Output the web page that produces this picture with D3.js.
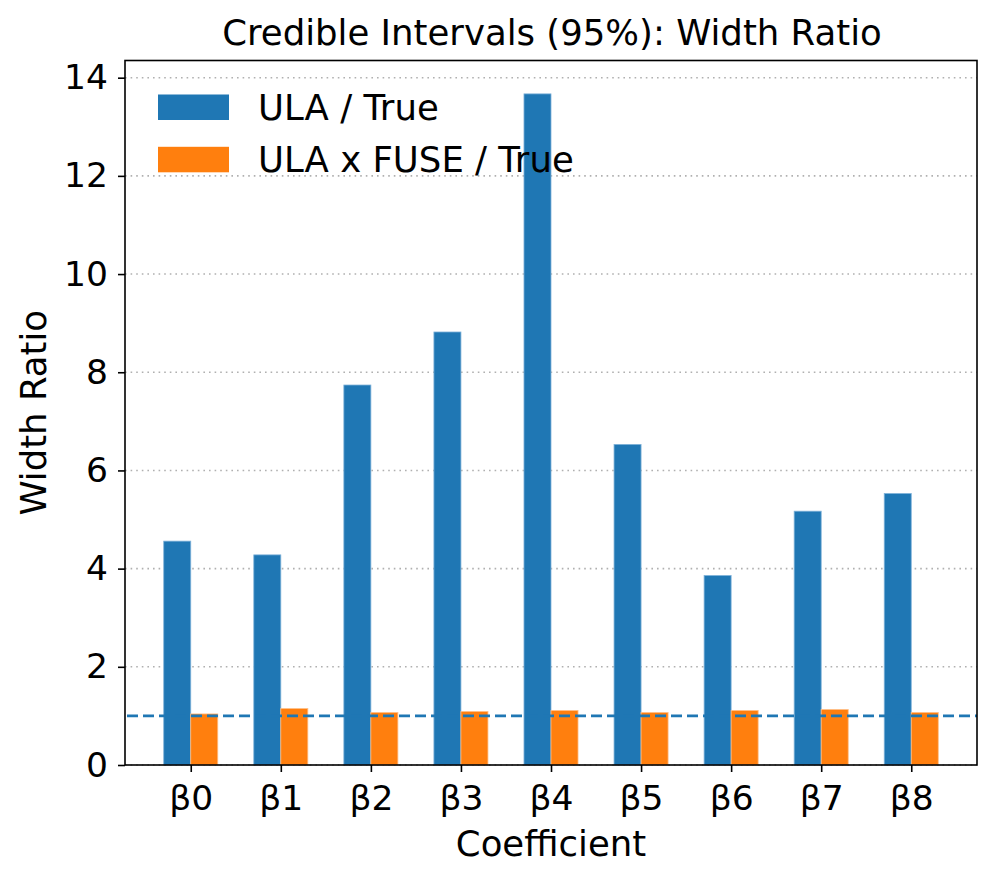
<!DOCTYPE html>
<html><head><meta charset="utf-8">
<script src="https://cdn.jsdelivr.net/npm/d3@7"></script>
<style>body{margin:0;background:#fff}svg{font-family:"DejaVu Sans",sans-serif}</style>
</head><body><svg id="c" width="995" height="881"></svg>
<script>
const categories = ["β0","β1","β2","β3","β4","β5","β6","β7","β8"];
const ulaTrue = [4.56,4.28,7.74,8.82,13.67,6.53,3.86,5.17,5.53];
const fuseTrue = [1.04,1.15,1.07,1.09,1.11,1.07,1.11,1.13,1.07];
const yTicks = [0,2,4,6,8,10,12,14];
const seriesNames = ["ULA / True","ULA x FUSE / True"];
const colors = ["#1f77b4","#ff7f0e"];

const svg = d3.select("#c");
const L=125,R=977,T=60.5,B=765;
const x = d3.scaleLinear().domain([-0.73,8.73]).range([L,R]);
const y = d3.scaleLinear().domain([0,14.35]).range([B,T]);
const w = 0.3;

// grid
svg.append("g").selectAll("line").data(yTicks).join("line")
  .attr("x1",L).attr("x2",R).attr("y1",d=>y(d)).attr("y2",d=>y(d))
  .attr("stroke","#b0b0b0").attr("stroke-width",1.6).attr("stroke-dasharray","1.6,4");

const series=[ulaTrue,fuseTrue];
series.forEach((s,si)=>{
  svg.append("g").selectAll("rect").data(s).join("rect")
    .attr("x",(d,i)=>x(i+(si===0?-w:0)))
    .attr("width",x(w)-x(0))
    .attr("y",d=>y(d)).attr("height",d=>y(0)-y(d))
    .attr("fill",colors[si]).attr("stroke",si===0?"#7fb2d9":"#ffbf87").attr("stroke-width",0.8);
});

// reference line
svg.append("line").attr("x1",L+2).attr("x2",R).attr("y1",y(1)).attr("y2",y(1))
  .attr("stroke","#1f77b4").attr("stroke-width",2.7).attr("stroke-dasharray","11,5");

// axes
const ya = svg.append("g").attr("transform",`translate(${L},0)`)
  .call(d3.axisLeft(y).tickValues(yTicks).tickSize(7).tickPadding(10));
const xa = svg.append("g").attr("transform",`translate(0,${B})`)
  .call(d3.axisBottom(x).tickValues(d3.range(categories.length)).tickFormat(i=>categories[i]).tickSize(7));
[ya,xa].forEach(a=>{a.select(".domain").remove();a.selectAll("line").attr("stroke","#000").attr("stroke-width",1.6);
  a.selectAll("text").attr("font-size",34.5).attr("fill","#000").attr("font-family","DejaVu Sans");});
xa.selectAll("text").attr("y",45).attr("dy",0);

svg.append("rect").attr("x",L).attr("y",T).attr("width",R-L).attr("height",B-T)
  .attr("fill","none").attr("stroke","#000").attr("stroke-width",1.6);

// legend
seriesNames.forEach((n,i)=>{
  const ly=94.5+i*52.3;
  svg.append("rect").attr("x",158).attr("y",ly).attr("width",71).attr("height",25.5).attr("fill",colors[i]);
  svg.append("text").attr("x",258).attr("y",ly+25.5).attr("font-size",35.5).text(n);
});

svg.append("text").attr("x",(L+R)/2+1).attr("y",45).attr("text-anchor","middle").attr("font-size",35.5).text("Credible Intervals (95%): Width Ratio");
svg.append("text").attr("x",(L+R)/2).attr("y",856).attr("text-anchor","middle").attr("font-size",35.5).text("Coefficient");
svg.append("text").attr("transform",`translate(46,${(T+B)/2}) rotate(-90)`).attr("text-anchor","middle").attr("font-size",35.5).text("Width Ratio");
</script></body></html>
